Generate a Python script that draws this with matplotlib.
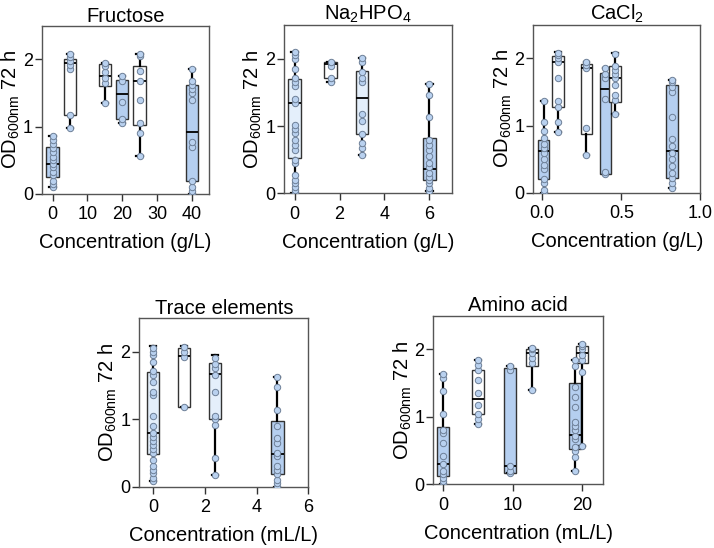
import matplotlib
matplotlib.use("Agg")
import matplotlib.pyplot as plt

plt.rcParams['font.family'] = ['Liberation Sans', 'DejaVu Sans']
plt.rcParams['mathtext.fontset'] = 'custom'
plt.rcParams['mathtext.rm'] = 'Liberation Sans'
plt.rcParams['mathtext.it'] = 'Liberation Sans'

BLUE = '#b5cff0'
LIGHT = '#e4effb'
WHITE = '#ffffff'

# ---- Fructose (g/L)
fru_pos = [0, 5, 15, 20, 25, 40]
fru_q1 = [0.25, 1.18, 1.60, 1.12, 1.03, 0.20]
fru_med = [0.45, 1.95, 1.76, 1.48, 1.68, 0.92]
fru_q3 = [0.70, 2.00, 1.93, 1.70, 1.90, 1.62]
fru_lo = [0.10, 0.98, 1.35, 1.06, 0.57, 0.00]
fru_hi = [0.86, 2.08, 1.95, 1.75, 2.08, 1.85]
fru_fill = [BLUE, WHITE, WHITE, BLUE, WHITE, BLUE]
fru_pts = [
    [0.10, 0.15, 0.20, 0.28, 0.33, 0.40, 0.45, 0.50, 0.55, 0.62, 0.68, 0.75, 0.80, 0.86],
    [0.98, 1.17, 1.85, 1.92, 1.97, 2.03, 2.08],
    [1.35, 1.65, 1.72, 1.82, 1.90, 1.95],
    [1.06, 1.12, 1.37, 1.68, 1.75],
    [0.57, 0.90, 1.05, 1.40, 1.68, 1.83, 2.05, 2.08],
    [0.00, 0.05, 0.10, 0.20, 0.70, 0.77, 1.40, 1.50, 1.56, 1.62, 1.68, 1.85],
]

# ---- Na2HPO4 (g/L)
na_pos = [0, 1.6, 3, 6]
na_q1 = [0.52, 1.72, 0.88, 0.20]
na_med = [1.35, 1.93, 1.42, 0.36]
na_q3 = [1.70, 1.95, 1.82, 0.83]
na_lo = [0.00, 1.65, 0.57, 0.03]
na_hi = [2.10, 1.95, 2.02, 1.62]
na_fill = [LIGHT, WHITE, LIGHT, BLUE]
na_pts = [
    [0.00, 0.05, 0.10, 0.15, 0.20, 0.28, 0.45, 0.50, 0.65, 0.72, 0.80, 0.90, 0.96, 1.02,
     1.35, 1.40, 1.60, 1.66, 1.72, 1.85, 2.00, 2.05, 2.10],
    [1.65, 1.72, 1.90, 1.95],
    [0.57, 0.68, 0.75, 0.88, 1.08, 1.18, 1.65, 1.72, 1.80, 1.95, 2.02],
    [0.03, 0.08, 0.15, 0.20, 0.25, 0.30, 0.40, 0.45, 0.55, 0.65, 0.72, 0.80, 1.13, 1.47, 1.62],
]

# ---- CaCl2 (g/L)
ca_pos = [0.01, 0.10, 0.28, 0.40, 0.46, 0.82]
ca_q1 = [0.20, 1.28, 0.88, 0.28, 1.35, 0.22]
ca_med = [0.63, 1.95, 1.85, 1.55, 1.70, 0.62]
ca_q3 = [0.78, 2.03, 1.92, 1.78, 1.88, 1.60]
ca_lo = [0.00, 0.90, 0.57, 0.28, 1.17, 0.08]
ca_hi = [1.37, 2.10, 1.95, 1.85, 2.08, 1.68]
ca_fill = [BLUE, WHITE, WHITE, BLUE, WHITE, BLUE]
ca_pts = [
    [0.00, 0.05, 0.15, 0.20, 0.35, 0.42, 0.50, 0.60, 0.66, 0.72, 0.82, 0.92, 1.05, 1.37],
    [0.90, 1.05, 1.27, 1.37, 1.70, 1.95, 2.00, 2.05, 2.08],
    [0.57, 0.97, 1.85, 1.90, 1.95],
    [0.28, 0.31, 1.40, 1.70, 1.77, 1.85],
    [1.17, 1.38, 1.45, 1.60, 1.70, 1.76, 1.82, 1.88, 2.07],
    [0.08, 0.15, 0.22, 0.30, 0.40, 0.50, 0.60, 0.70, 0.80, 1.13, 1.50, 1.58, 1.65, 1.68],
]

# ---- Trace elements (mL/L)
tr_pos = [0, 1.2, 2.4, 4.8]
tr_q1 = [0.48, 1.18, 1.00, 0.18]
tr_med = [0.80, 1.93, 1.67, 0.49]
tr_q3 = [1.70, 2.05, 1.83, 0.97]
tr_lo = [0.08, 1.18, 0.17, 0.00]
tr_hi = [2.08, 2.08, 1.95, 1.62]
tr_fill = [LIGHT, WHITE, LIGHT, BLUE]
tr_pts = [
    [0.08, 0.13, 0.20, 0.25, 0.30, 0.40, 0.50, 0.56, 0.62, 0.68, 0.74, 0.80, 0.90, 1.05,
     1.35, 1.40, 1.55, 1.65, 1.72, 1.85, 1.95, 2.00, 2.05],
    [1.18, 1.92, 2.00, 2.07],
    [0.17, 0.42, 0.92, 1.00, 1.05, 1.40, 1.65, 1.75, 1.82, 1.90],
    [0.00, 0.05, 0.10, 0.18, 0.25, 0.30, 0.45, 0.50, 0.65, 0.72, 0.90, 1.13, 1.47, 1.62],
]

# ---- Amino acid (mL/L)
aa_pos = [0, 5, 9.6, 12.8, 19, 20]
aa_q1 = [0.12, 1.05, 0.17, 1.75, 0.52, 1.80]
aa_med = [0.30, 1.27, 0.27, 1.95, 0.73, 1.95]
aa_q3 = [0.85, 1.70, 1.73, 2.00, 1.50, 2.05]
aa_lo = [0.00, 0.90, 0.17, 1.40, 0.20, 0.57]
aa_hi = [1.63, 1.85, 1.75, 2.02, 1.85, 2.08]
aa_fill = [BLUE, WHITE, BLUE, WHITE, BLUE, WHITE]
aa_pts = [
    [0.00, 0.05, 0.10, 0.15, 0.20, 0.30, 0.42, 0.62, 0.76, 0.80, 1.05, 1.38, 1.57, 1.63],
    [0.90, 0.97, 1.05, 1.17, 1.35, 1.55, 1.70, 1.77, 1.85],
    [0.17, 0.20, 0.27, 1.70, 1.75],
    [1.40, 1.80, 1.88, 1.95, 2.00, 2.02],
    [0.20, 0.40, 0.50, 0.55, 0.68, 0.72, 0.80, 0.86, 0.92, 1.15, 1.30, 1.45, 1.75, 1.85],
    [0.57, 1.67, 1.85, 1.92, 2.00, 2.05, 2.08],
]

panels = [
    dict(rect=[0.059, 0.646, 0.234, 0.307], title='Fructose', unit='g/L',
         pos=fru_pos, q1=fru_q1, med=fru_med, q3=fru_q3, lo=fru_lo, hi=fru_hi,
         fill=fru_fill, pts=fru_pts, width=3.6, xlim=(-3, 45), xticks=[0, 10, 20, 30, 40],
         xtl=['0', '10', '20', '30', '40']),
    dict(rect=[0.398, 0.647, 0.235, 0.307], title='Na$_2$HPO$_4$', unit='g/L',
         pos=na_pos, q1=na_q1, med=na_med, q3=na_q3, lo=na_lo, hi=na_hi,
         fill=na_fill, pts=na_pts, width=0.56, xlim=(-0.46, 7), xticks=[0, 2, 4, 6],
         xtl=['0', '2', '4', '6']),
    dict(rect=[0.747, 0.648, 0.234, 0.307], title='CaCl$_2$', unit='g/L',
         pos=ca_pos, q1=ca_q1, med=ca_med, q3=ca_q3, lo=ca_lo, hi=ca_hi,
         fill=ca_fill, pts=ca_pts, width=0.072, xlim=(-0.055, 1.0), xticks=[0, 0.5, 1.0],
         xtl=['0.0', '0.5', '1.0']),
    dict(rect=[0.195, 0.112, 0.237, 0.308], title='Trace elements', unit='mL/L',
         pos=tr_pos, q1=tr_q1, med=tr_med, q3=tr_q3, lo=tr_lo, hi=tr_hi,
         fill=tr_fill, pts=tr_pts, width=0.48, xlim=(-0.53, 6), xticks=[0, 2, 4, 6],
         xtl=['0', '2', '4', '6']),
    dict(rect=[0.607, 0.116, 0.237, 0.308], title='Amino acid', unit='mL/L',
         pos=aa_pos, q1=aa_q1, med=aa_med, q3=aa_q3, lo=aa_lo, hi=aa_hi,
         fill=aa_fill, pts=aa_pts, width=1.75, xlim=(-1.45, 23), xticks=[0, 10, 20],
         xtl=['0', '10', '20']),
]

fig = plt.figure(figsize=(7.14, 5.48), dpi=100)

for p in panels:
    ax = fig.add_axes(p['rect'])
    for i in range(len(p['pos'])):
        st = dict(q1=p['q1'][i], med=p['med'][i], q3=p['q3'][i],
                  whislo=p['lo'][i], whishi=p['hi'][i], fliers=[])
        ax.bxp([st], positions=[p['pos'][i]], widths=p['width'],
               patch_artist=True, showfliers=False, manage_ticks=False,
               boxprops=dict(facecolor=p['fill'][i], edgecolor='#333333', linewidth=1.0),
               medianprops=dict(color='black', linewidth=1.3),
               whiskerprops=dict(color='black', linewidth=1.6),
               capprops=dict(color='black', linewidth=1.6),
               zorder=2 + i * 0.1)
        ys = p['pts'][i]
        ax.plot([p['pos'][i]] * len(ys), ys, 'o', ms=4.6, mfc='#b9d1ef',
                mec='#6d7f97', mew=0.7, zorder=5 + i * 0.1)

    ax.set_xlim(*p['xlim'])
    ax.set_ylim(0, 2.5)
    ax.set_yticks([0, 1, 2])
    ax.set_xticks(p['xticks'])
    ax.set_xticklabels(p['xtl'])
    ax.tick_params(direction='out', length=5, width=1, labelsize=13, color='#333333')
    ax.tick_params(axis='y', pad=1.5)
    ax.tick_params(axis='x', pad=4)
    for s in ax.spines.values():
        s.set_color('#555555')
        s.set_linewidth(1)
    ax.set_title(p['title'], fontsize=14.5, pad=3)
    ax.set_xlabel('Concentration (%s)' % p['unit'], fontsize=14.5, labelpad=7)
    ax.set_ylabel('OD$_{600nm}$ 72 h', fontsize=14.5, labelpad=0.5)

fig.savefig('out.png', dpi=100)
